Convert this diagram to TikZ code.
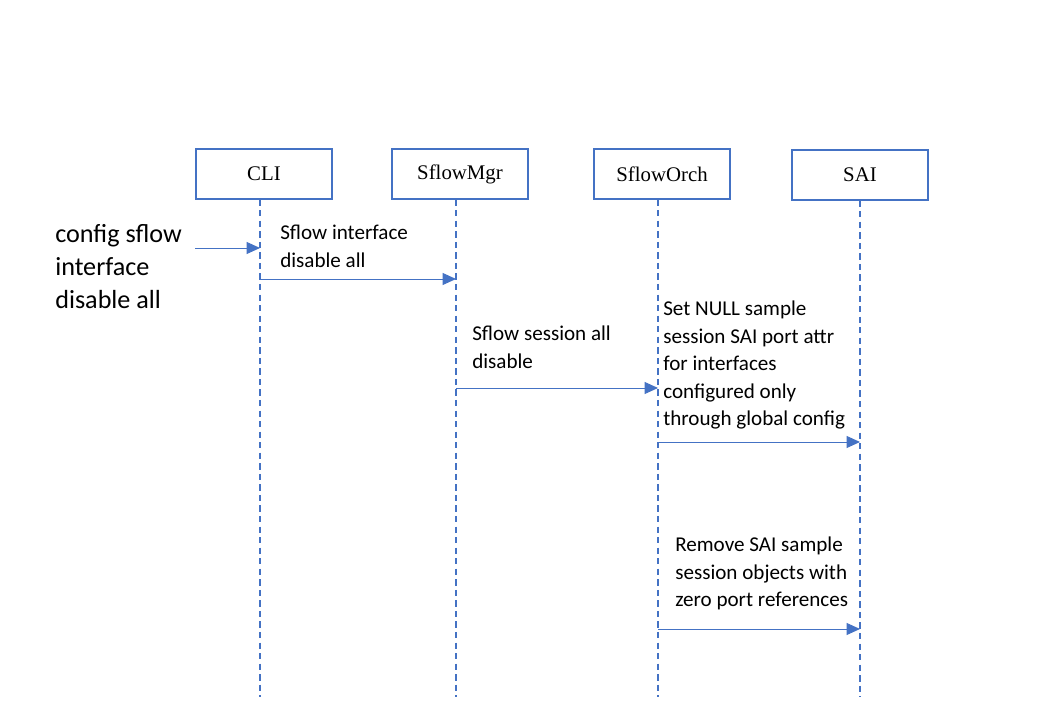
\documentclass[tikz,border=0pt]{standalone}
\usepackage{fontspec}
\setmainfont{Carlito}
\newfontfamily\boxfont{Liberation Serif}
\usepackage{tikz}
\usepackage{xcolor}
\usetikzlibrary{calc,arrows.meta}
\definecolor{lineblue}{HTML}{4472C4}

\begin{document}
\begin{tikzpicture}[x=0.025cm,y=-0.025cm]
            \tikzstyle{actor}=[draw=lineblue,line width=1.4pt,minimum width=3.4cm,minimum height=1.23cm,inner sep=0pt,font=\boxfont\fontsize{14.8}{17}\selectfont]
            \tikzstyle{life}=[draw=lineblue,line width=1.4pt,dash pattern=on 4.5pt off 3pt]
            \tikzstyle{msg}=[draw=lineblue,line width=0.7pt,-{Triangle[length=9.5pt,width=8.5pt]}]
            \tikzstyle{lbl}=[align=left,inner sep=0pt,anchor=north west,font=\fontsize{15}{19.5}\selectfont]
            \useasboundingbox (0,0) rectangle (1048,720);
            % participants
            \node[actor] (cli) at (264,174) {CLI};
            \node[actor] (mgr) at (460,174) {SflowMgr};
            \node[actor] (orch) at (662,174) {SflowOrch};
            \node[actor] (sai) at (860,175) {SAI};
            % lifelines
            \coordinate (cliend) at (260,697);
            \coordinate (mgrend) at (456,697);
            \coordinate (orchend) at (658,697);
            \coordinate (saiend) at (860,697);
            \draw[life] (cli.south -| cliend) -- (cliend);
            \draw[life] (mgr.south -| mgrend) -- (mgrend);
            \draw[life] (orch.south -| orchend) -- (orchend);
            \draw[life] (sai.south -| saiend) -- (saiend);
            % messages
            \coordinate (start) at (195,248);
            \draw[msg] (start) -- (start -| cliend);
            \draw[msg] (260,279) coordinate (m1) -- (m1 -| mgrend);
            \draw[msg] (456,388) coordinate (m2) -- (m2 -| orchend);
            \draw[msg] (658,442) coordinate (m3) -- (m3 -| saiend);
            \draw[msg] (658,629) coordinate (m4) -- (m4 -| saiend);
            % texts
            \node[lbl,font=\fontsize{18.6}{23.4}\selectfont] (cmd) at (55,224) {config sflow\\interface\\disable all};
            \node[lbl] (t1) at (280,225) {Sflow interface\\disable all};
            \node[lbl] (t2) at (472,326) {Sflow session all\\disable};
            \node[lbl] (t3) at (663,301) {Set NULL sample\\session SAI port attr\\for interfaces\\configured only\\through global config};
            \node[lbl] (t4) at (675,537) {Remove SAI sample\\session objects with\\zero port references};
        \end{tikzpicture}
\end{document}
